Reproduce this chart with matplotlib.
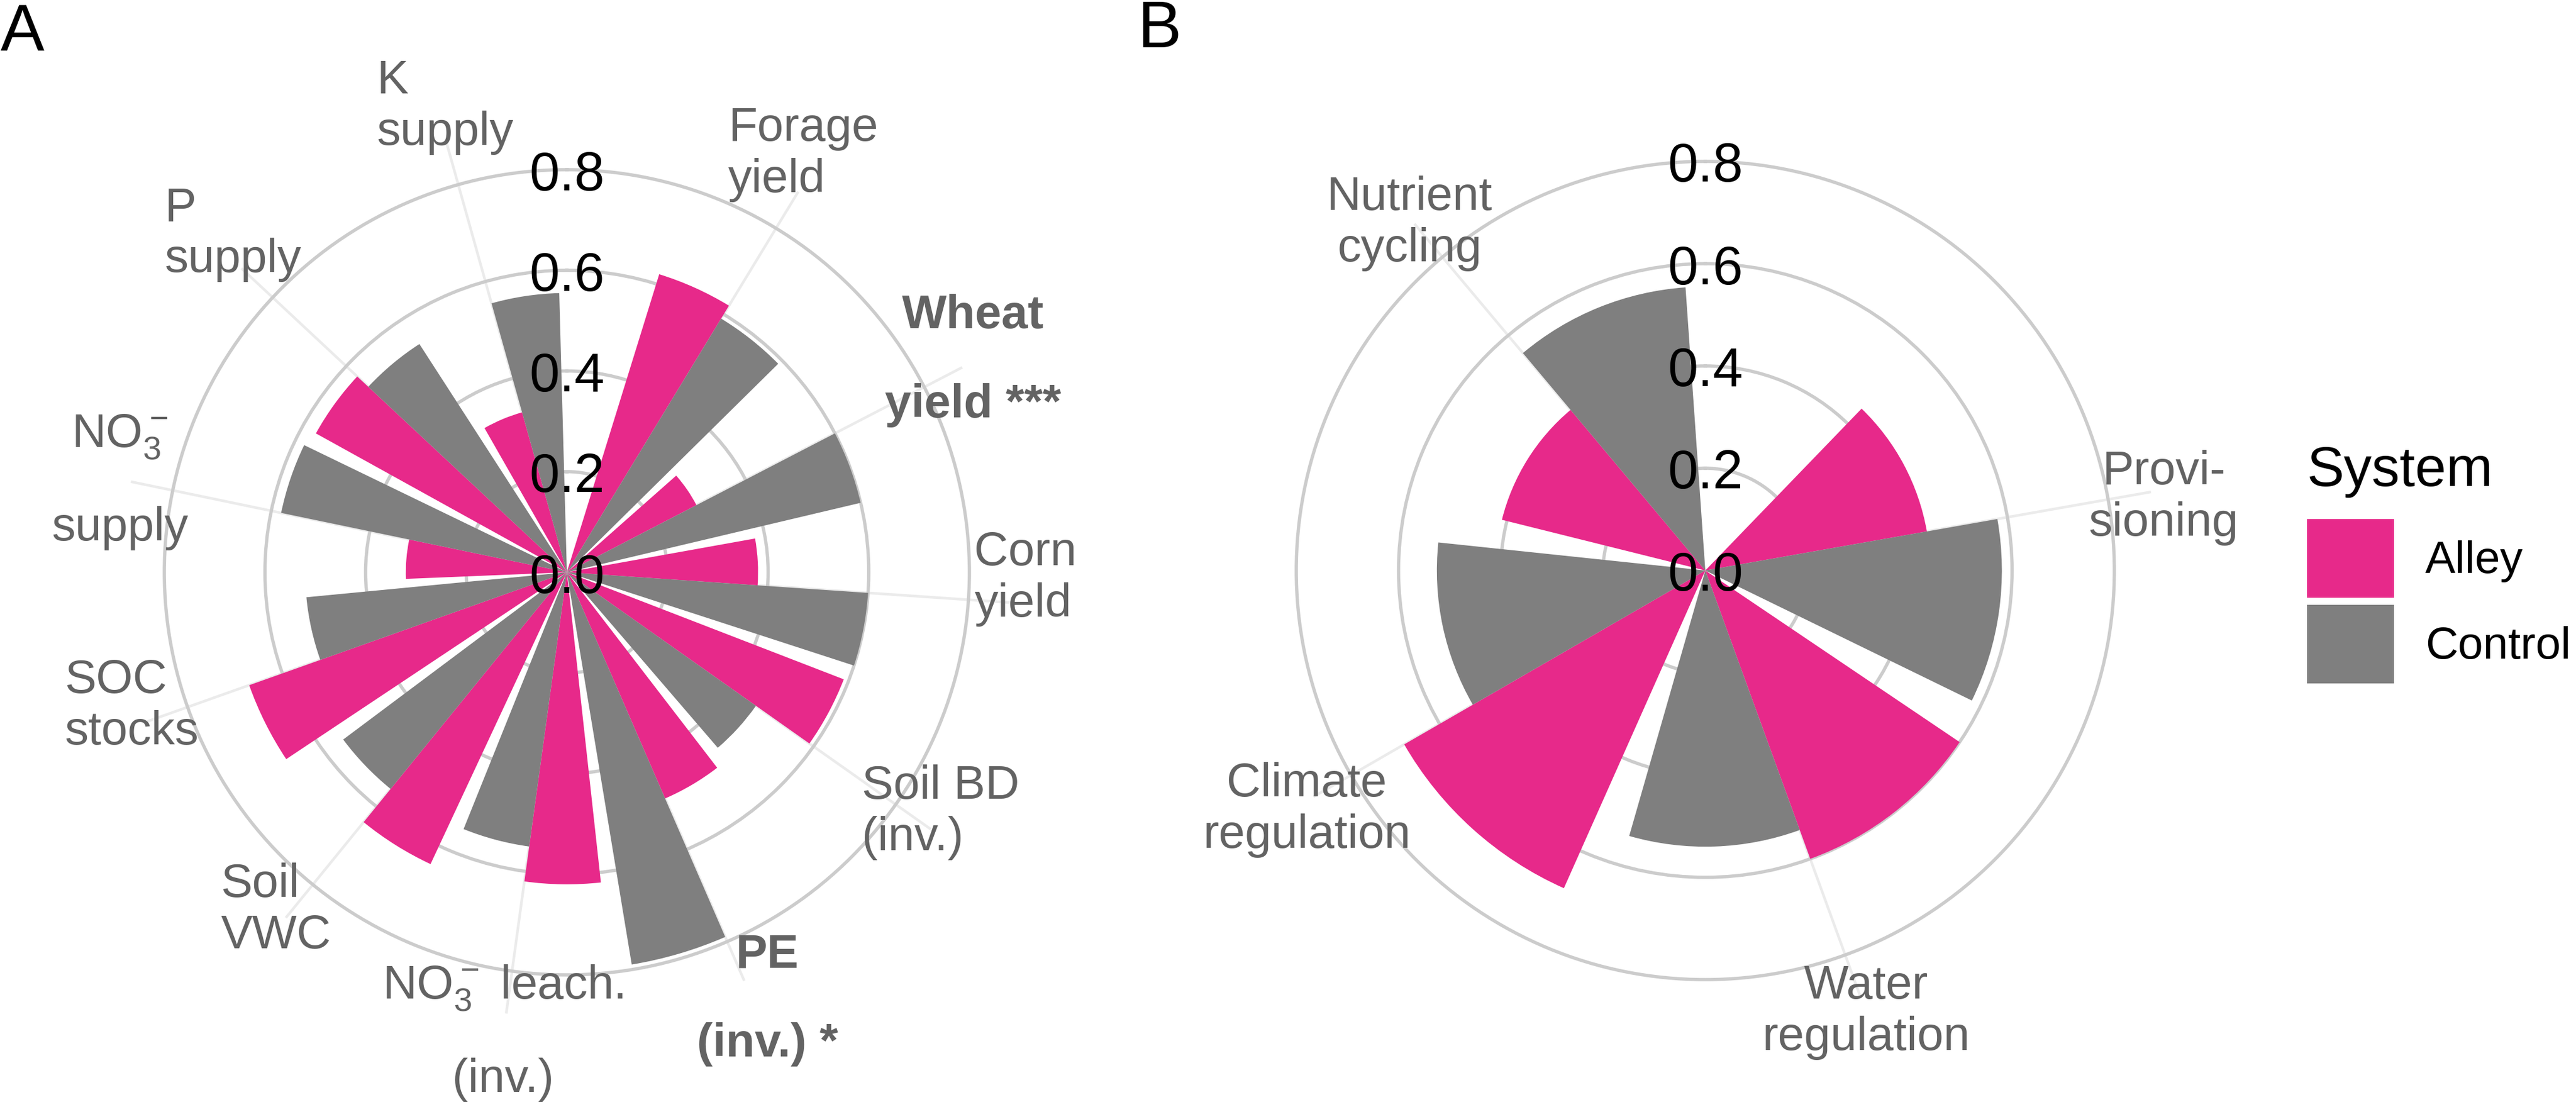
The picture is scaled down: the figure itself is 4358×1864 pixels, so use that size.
import numpy as np
import matplotlib
matplotlib.use("Agg")
import matplotlib.pyplot as plt
from matplotlib.patches import Patch

plt.rcParams['font.family'] = ['Liberation Sans', 'DejaVu Sans']

# ---- data ----
# panel A, clockwise from the top
services_a = ["Forage\nyield", "Wheat\nyield ***", "Corn\nyield", "Soil BD\n(inv.)",
              "PE\n(inv.) *", "$\\mathregular{NO_3^-}$ leach.\n(inv.)", "Soil\nVWC",
              "SOC\nstocks", "$\\mathregular{NO_3^-}$\nsupply", "P\nsupply", "K\nsupply"]
alley_a = [0.62, 0.29, 0.38, 0.59, 0.49, 0.62, 0.64, 0.67, 0.32, 0.57, 0.33]
control_a = [0.59, 0.60, 0.60, 0.46, 0.79, 0.55, 0.555, 0.52, 0.58, 0.54, 0.555]

# panel B
services_b = ["Provi-\nsioning", "Water\nregulation", "Climate\nregulation", "Nutrient\ncycling"]
alley_b = [0.44, 0.60, 0.68, 0.41]
control_b = [0.58, 0.54, 0.525, 0.555]

r_breaks = [0.0, 0.2, 0.4, 0.6, 0.8]
systems = ["Alley", "Control"]

# ---- layout (pixels) ----
W, H = 4358, 1865
DPI = 200
# label centres, offset from the panel centre (x right, y down)
label_xy_a = [(400, -708), (687, -359), (776, 10), (632, 405), (339, 722), (-108, 778),
              (-492, 571), (-736, 226), (-756, -154), (-565, -573), (-206, -788)]
label_xy_b = [(776, -124), (272, 746), (-674, 404), (-500, -588)]

PINK = "#E7298A"
GREY = "#7F7F7F"
LABEL_COL = "#636363"

fig = plt.figure(figsize=(W / DPI, H / DPI), dpi=DPI)
fig.patch.set_facecolor("white")


def px_rect(cx, cy, R):
    # square axes box from a centre/radius given in image pixels
    return [(cx - R) / W, 1 - (cy + R) / H, 2 * R / W, 2 * R / H]


def rose(cx, cy, R, labels, alley, control, label_xy, centre_all):
    ax = fig.add_axes(px_rect(cx, cy, R), projection="polar")
    ax.patch.set_visible(False)
    n = len(labels)
    step = 2 * np.pi / (n + 0.5)
    theta = step * np.arange(1, n + 1)
    ax.set_theta_zero_location("N")
    ax.set_theta_direction(-1)
    ax.set_ylim(0, 0.8)
    ax.set_xticks([])
    ax.set_yticks(r_breaks[1:])
    ax.set_yticklabels([])
    ax.tick_params(length=0)
    ax.xaxis.grid(False)
    ax.yaxis.grid(True, color="#cccccc", lw=2.0)
    for gl in ax.yaxis.get_gridlines():
        gl.set_clip_on(False)
    ax.spines["polar"].set_visible(False)

    for t in theta:
        ax.plot([t, t], [0, 0.885], color="#ebebeb", lw=1.6, clip_on=False,
                zorder=1, solid_capstyle="butt")

    w = 0.45 * step
    ax.bar(theta - w / 2, alley, width=w, color=PINK, linewidth=0, zorder=2)
    ax.bar(theta + w / 2, control, width=w, color=GREY, linewidth=0, zorder=2)

    for r in r_breaks:
        ax.text(0, r, f"{r:.1f}", ha="center", va="center_baseline", fontsize=33,
                color="black", zorder=5)

    for lab, (dx, dy) in zip(labels, label_xy):
        bold = "*" in lab
        expr = bold or "NO_3" in lab
        ax.text(0.5 + dx / (2 * R), 0.5 - dy / (2 * R), lab, transform=ax.transAxes,
                ha="center", va="center", fontsize=28.8, color=LABEL_COL,
                fontweight="bold" if bold else "normal",
                multialignment="center" if (expr or centre_all) else "left",
                linespacing=2.3 if expr else 1.2, zorder=5, clip_on=False)
    return ax


ax_a = rose(959, 969, 681, services_a, alley_a, control_a, label_xy_a, False)
ax_b = rose(2885, 966, 692, services_b, alley_b, control_b, label_xy_b, True)

# legend
handles = [Patch(facecolor=PINK, edgecolor="none"), Patch(facecolor=GREY, edgecolor="none")]
fig.legend(handles, systems, loc="upper left", bbox_to_anchor=(3903 / W, 1 - 879 / H),
           frameon=False, fontsize=27.5, handlelength=1.92, handleheight=2.3,
           labelspacing=0.16, handletextpad=0.7, borderpad=0, borderaxespad=0)
fig.text(3903 / W, 1 - 822 / H, "System", fontsize=34, ha="left", va="baseline")

fig.text(1 / W, 1 - 86 / H, "A", fontsize=40, ha="left", va="baseline")
fig.text(1925 / W, 1 - 80 / H, "B", fontsize=40, ha="left", va="baseline")

fig.savefig("out.png", dpi=DPI, facecolor="white")
